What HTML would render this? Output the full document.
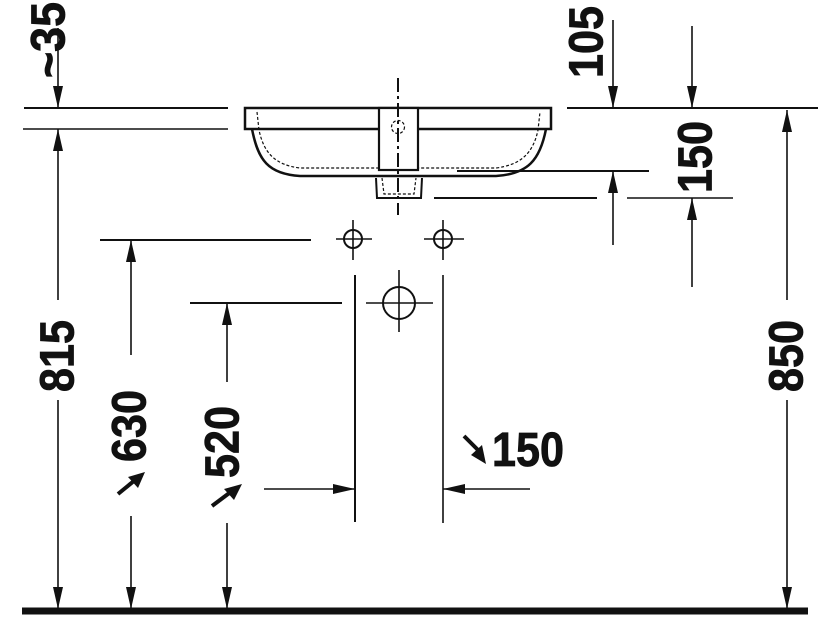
<!DOCTYPE html>
<html><head><meta charset="utf-8"><style>html,body{margin:0;padding:0;background:#fff}svg{display:block}</style></head>
<body>
<svg width="819" height="618" viewBox="0 0 819 618" xmlns="http://www.w3.org/2000/svg">
<defs>
<marker id="a" viewBox="0 0 22 10" refX="22" refY="5" markerWidth="22" markerHeight="10" markerUnits="userSpaceOnUse" orient="auto"><path d="M0,0 L22,5 L0,10 Z" fill="#111"/></marker>
</defs>
<g stroke="#111" fill="none" stroke-width="1.6">
<line x1="22" y1="611" x2="808" y2="611" stroke-width="7"/>
<line x1="24" y1="108" x2="228" y2="108" stroke-width="2"/>
<line x1="23" y1="129" x2="228" y2="129"/>
<line x1="567" y1="108" x2="818" y2="108" stroke-width="2"/>
<line x1="58" y1="28" x2="58" y2="108" marker-end="url(#a)"/>
<line x1="58" y1="300" x2="58" y2="129" marker-end="url(#a)"/>
<line x1="58" y1="400" x2="58" y2="609" marker-end="url(#a)"/>
<line x1="613" y1="20" x2="613" y2="108" marker-end="url(#a)"/>
<line x1="692" y1="26" x2="692" y2="108" marker-end="url(#a)"/>
<line x1="457" y1="171" x2="649" y2="171" stroke-width="2"/>
<line x1="434" y1="198" x2="597" y2="198" stroke-width="2"/>
<line x1="627" y1="198" x2="733" y2="198"/>
<line x1="613" y1="245" x2="613" y2="171" marker-end="url(#a)"/>
<line x1="692" y1="287" x2="692" y2="198" marker-end="url(#a)"/>
<line x1="787" y1="300" x2="787" y2="110" marker-end="url(#a)"/>
<line x1="787" y1="400" x2="787" y2="609" marker-end="url(#a)"/>
<rect x="245" y="108" width="306" height="21" stroke-width="2.5"/>
<path d="M252,129 C258,160 268,174 300,176 L496,176 C528,174 540,160 546,129" stroke-width="2.5"/>
<path d="M257,112 L259,130 C264,154 276,165 300,168 L496,168 C520,165 533,154 538,130 L540,112" stroke-dasharray="3,2" stroke-width="1.2"/>
<rect x="379" y="108" width="39" height="62" fill="#fff" stroke-width="2.2"/>
<circle cx="398" cy="127" r="6.5" stroke-dasharray="3,2" stroke-width="1.2"/>
<path d="M376,178 L377,198 L421,198 L422,178" stroke-width="2"/>
<path d="M382,178 L384,194 L414,194 L416,178" stroke-width="1.2" stroke-dasharray="3,2"/>
<line x1="398" y1="78" x2="398" y2="215" stroke-width="2" stroke-dasharray="14,4,3,4"/>
<circle cx="353" cy="239" r="9" stroke-width="2"/>
<line x1="336" y1="239" x2="372" y2="239"/><line x1="353" y1="220" x2="353" y2="260"/>
<circle cx="443" cy="239" r="9" stroke-width="2"/>
<line x1="424" y1="239" x2="464" y2="239"/><line x1="443" y1="220" x2="443" y2="260"/>
<line x1="100" y1="240" x2="311" y2="240" stroke-width="2"/>
<circle cx="399" cy="303" r="16" stroke-width="2"/>
<line x1="366" y1="303" x2="433" y2="303"/><line x1="399" y1="270" x2="399" y2="332"/>
<line x1="190" y1="303" x2="342" y2="303" stroke-width="2"/>
<line x1="355" y1="275" x2="355" y2="522" stroke-width="2"/>
<line x1="443" y1="275" x2="443" y2="523"/>
<line x1="131" y1="355" x2="131" y2="240" marker-end="url(#a)"/>
<line x1="131" y1="516" x2="131" y2="609" marker-end="url(#a)"/>
<line x1="227" y1="382" x2="227" y2="303" marker-end="url(#a)"/>
<line x1="227" y1="523" x2="227" y2="609" marker-end="url(#a)"/>
<line x1="264" y1="489" x2="355" y2="489" marker-end="url(#a)"/>
<line x1="530" y1="489" x2="443" y2="489" marker-end="url(#a)"/>
<line x1="118" y1="494" x2="140" y2="476" stroke-width="4"/>
<path d="M145,472 L128,477 L138,488 Z" fill="#111" stroke="none"/>
<line x1="212" y1="506" x2="236" y2="488" stroke-width="4"/>
<path d="M242,484 L224,489 L234,500 Z" fill="#111" stroke="none"/>
<line x1="464" y1="436" x2="480" y2="452" stroke-width="4"/>
<path d="M486,464 L471,455 L482,445 Z" fill="#111" stroke="none"/>
</g>
<g font-family="'Liberation Sans', sans-serif" font-weight="bold" font-size="48" fill="#111" stroke="#111" stroke-width="0.8" text-anchor="middle">
<text transform="translate(52,40) rotate(-90)" dominant-baseline="middle" textLength="76" lengthAdjust="spacingAndGlyphs">~35</text>
<text transform="translate(61,356) rotate(-90)" dominant-baseline="middle" textLength="72" lengthAdjust="spacingAndGlyphs">815</text>
<text transform="translate(790,356) rotate(-90)" dominant-baseline="middle" textLength="72" lengthAdjust="spacingAndGlyphs">850</text>
<text transform="translate(133,426) rotate(-90)" dominant-baseline="middle" textLength="72" lengthAdjust="spacingAndGlyphs">630</text>
<text transform="translate(226,442) rotate(-90)" dominant-baseline="middle" textLength="72" lengthAdjust="spacingAndGlyphs">520</text>
<text transform="translate(590,42) rotate(-90)" dominant-baseline="middle" textLength="72" lengthAdjust="spacingAndGlyphs">105</text>
<text transform="translate(699,157) rotate(-90)" dominant-baseline="middle" textLength="72" lengthAdjust="spacingAndGlyphs">150</text>
<text x="528" y="466" textLength="72" lengthAdjust="spacingAndGlyphs">150</text>
</g>
</svg>
</body></html>
